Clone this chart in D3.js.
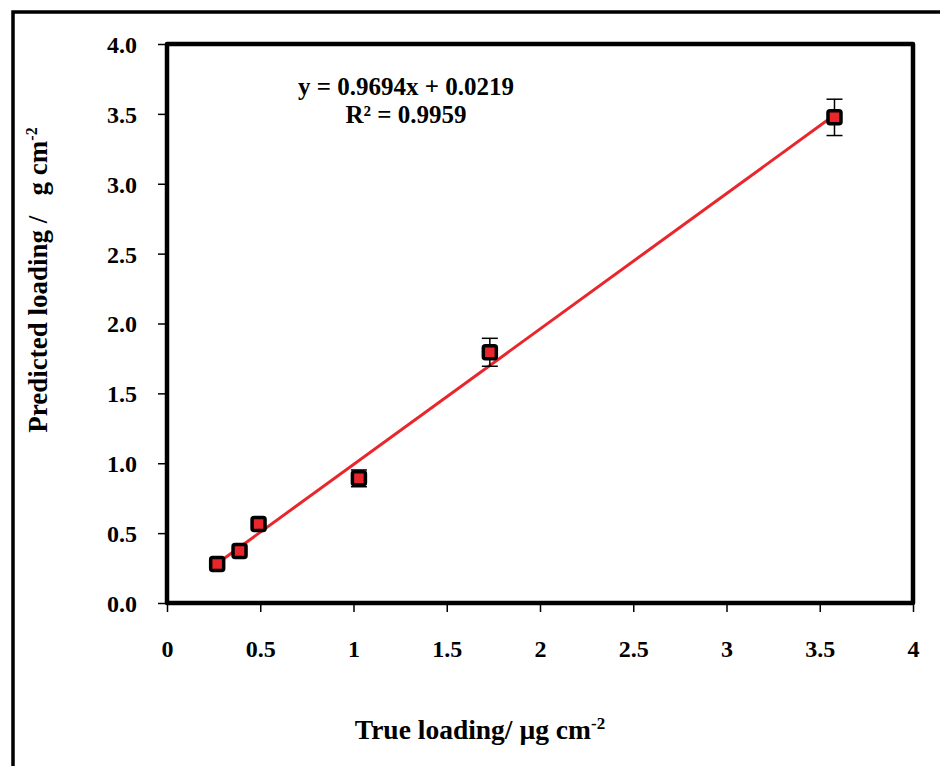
<!DOCTYPE html>
<html><head><meta charset="utf-8">
<script src="https://cdn.jsdelivr.net/npm/d3@7"></script>
<style>body{margin:0;background:#fff}svg{display:block}</style>
</head><body>
<script>
const trueLoading = [0.269, 0.389, 0.491, 1.029, 1.731, 3.579];
const predicted   = [0.279, 0.372, 0.565, 0.892, 1.794, 3.475];
const errors      = [0.0, 0.0, 0.0, 0.06, 0.10, 0.13];
const xTicks = [0, 0.5, 1, 1.5, 2, 2.5, 3, 3.5, 4];
const yTicks = [0, 0.5, 1, 1.5, 2, 2.5, 3, 3.5, 4];
const slope = 0.9694, intercept = 0.0219;
const eqText = "y = 0.9694x + 0.0219";
const r2Text = "R\u00b2 = 0.9959";

const W = 940, H = 766;
const m = {left: 167, top: 44, right: 913, bottom: 603};
const svg = d3.select("body").append("svg").attr("width", W).attr("height", H);
const serif = "'Liberation Serif','Times New Roman',serif";

// outer frame (left and top)
svg.append("path").attr("d", `M13,${H} L13,12 L${W},12`).attr("fill","none").attr("stroke","#000").attr("stroke-width",3.5);

const x = d3.scaleLinear().domain([0,4]).range([m.left, m.right]);
const y = d3.scaleLinear().domain([0,4]).range([m.bottom, m.top]);

// axes
const xAxis = svg.append("g").attr("transform", `translate(0,${m.bottom})`)
  .call(d3.axisBottom(x).tickValues(xTicks).tickFormat(d3.format("")).tickSize(9).tickPadding(28));
const yAxis = svg.append("g").attr("transform", `translate(${m.left},0)`)
  .call(d3.axisLeft(y).tickValues(yTicks).tickFormat(d3.format(".1f")).tickSize(9).tickPadding(21));
[xAxis, yAxis].forEach(g => {
  g.select(".domain").remove();
  g.selectAll(".tick line").attr("stroke","#000").attr("stroke-width",1.5);
  g.selectAll(".tick text").attr("fill","#000").style("font-family", serif)
    .style("font-weight","bold").style("font-size","24px");
});
yAxis.selectAll(".tick text").attr("dy","0.35em");

// plot box
svg.append("rect").attr("x", m.left).attr("y", m.top)
  .attr("width", m.right - m.left).attr("height", m.bottom - m.top)
  .attr("fill","none").attr("stroke","#000").attr("stroke-width",4.5).attr("stroke-linejoin","round");

// trendline
const x0 = d3.min(trueLoading), x1 = d3.max(trueLoading);
svg.append("line").attr("x1", x(x0)).attr("y1", y(slope*x0+intercept))
  .attr("x2", x(x1)).attr("y2", y(slope*x1+intercept))
  .attr("stroke","#e8262b").attr("stroke-width",3);

const pts = trueLoading.map((d,i)=>({x:d, y:predicted[i], e:errors[i]}));
// error bars
const eb = svg.append("g");
pts.filter(p=>p.e>0).forEach(p=>{
  const cx = x(p.x);
  eb.append("line").attr("x1",cx).attr("x2",cx).attr("y1",y(p.y+p.e)).attr("y2",y(p.y-p.e)).attr("stroke","#000").attr("stroke-width",1.5);
  [p.y+p.e, p.y-p.e].forEach(v=>{
    eb.append("line").attr("x1",cx-8).attr("x2",cx+8).attr("y1",y(v)).attr("y2",y(v)).attr("stroke","#000").attr("stroke-width",1.5);
  });
});
// markers
svg.append("g").selectAll("rect").data(pts).join("rect")
  .attr("x", d=>x(d.x)-6.5).attr("y", d=>y(d.y)-6.5)
  .attr("width",13).attr("height",13).attr("rx",2)
  .attr("fill","#e8262b").attr("stroke","#000").attr("stroke-width",3.5);

// equation
svg.append("text").attr("x",406).attr("y",95).attr("text-anchor","middle")
  .style("font-family",serif).style("font-weight","bold").style("font-size","25px").text(eqText);
svg.append("text").attr("x",406).attr("y",123).attr("text-anchor","middle")
  .style("font-family",serif).style("font-weight","bold").style("font-size","25px").text(r2Text);

// x label
const xl = svg.append("text").attr("x",480).attr("y",739).attr("text-anchor","middle")
  .style("font-family",serif).style("font-weight","bold").style("font-size","27.5px");
xl.append("tspan").text("True loading/ µg cm");
xl.append("tspan").attr("dy",-10).style("font-size","17px").text("-2");

// y label
const yl = svg.append("text").attr("transform","translate(47,280) rotate(-90)").attr("text-anchor","middle")
  .style("font-family",serif).style("font-weight","bold").style("font-size","27px");
yl.append("tspan").text("Predicted loading /\u00a0\u00a0 g cm");
yl.append("tspan").attr("dy",-10).style("font-size","16px").text("-2");
</script>
</body></html>
